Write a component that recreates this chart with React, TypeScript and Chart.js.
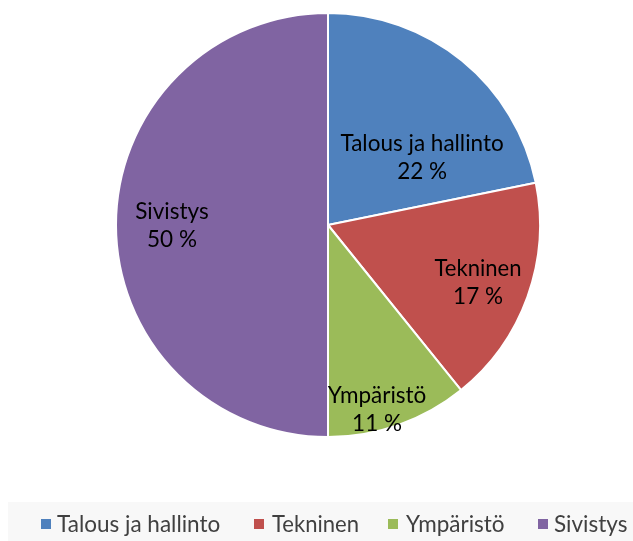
import React, { useEffect, useRef } from "react";
import { Chart, registerables } from "chart.js";

Chart.register(...registerables);

const categories = ["Talous ja hallinto", "Tekninen", "Ympäristö", "Sivistys"];
const values = [21.8, 17.4, 10.8, 50.0];
const colors = ["#4F81BD", "#C0504D", "#9BBB59", "#8064A2"];
// label placement: [radial fraction, angle offset in degrees]
const labelPlacement = [
  [0.547, 15],
  [0.757, 1],
  [0.897, 4.5],
  [0.736, 0],
];
// text width limits (style) to mimic the narrow original font
const textMaxWidth = [165, 87, 99, 75];
const legendBoxX = [41, 254, 388, 538];
const legendTextX = [57, 272, 406, 554];

const FONT = "Lato, 'Open Sans', sans-serif";

const labelsPlugin = {
  id: "pieLabels",
  afterDatasetsDraw(chart: any) {
    const ctx = chart.ctx;
    const meta = chart.getDatasetMeta(0);
    const ds = chart.data.datasets[0];
    const total = (ds.data as number[]).reduce((a, b) => a + b, 0);
    ctx.save();
    ctx.fillStyle = "#000";
    ctx.font = `22.5px ${FONT}`;
    ctx.textAlign = "center";
    ctx.textBaseline = "middle";
    meta.data.forEach((arc: any, i: number) => {
      const p = arc.getProps(["x", "y", "startAngle", "endAngle", "outerRadius"], true);
      const mid = (p.startAngle + p.endAngle) / 2 + (labelPlacement[i][1] * Math.PI) / 180;
      const r = p.outerRadius * labelPlacement[i][0];
      const cx = p.x + Math.cos(mid) * r;
      const cy = p.y + Math.sin(mid) * r;
      const pct = Math.round((ds.data[i] / total) * 100);
      ctx.fillText(chart.data.labels[i], cx, cy - 13, textMaxWidth[i]);
      ctx.fillText(`${pct} %`, cx, cy + 15);
    });
    ctx.restore();
  },
};

const legendPlugin = {
  id: "customLegend",
  beforeDraw(chart: any) {
    const ctx = chart.ctx;
    ctx.save();
    ctx.fillStyle = "#F8F8F8";
    ctx.fillRect(8, 502, chart.width - 8, chart.height - 502);
    ctx.restore();
  },
  afterDraw(chart: any) {
    const ctx = chart.ctx;
    const labels: string[] = chart.data.labels;
    const bg: string[] = chart.data.datasets[0].backgroundColor;
    ctx.save();
    ctx.font = `22.5px ${FONT}`;
    ctx.textBaseline = "middle";
    ctx.textAlign = "left";
    const box = 10;
    const y = 524;
    labels.forEach((l, i) => {
      ctx.fillStyle = bg[i];
      ctx.fillRect(legendBoxX[i], y - box / 2, box, box);
      ctx.fillStyle = "#404040";
      ctx.fillText(l, legendTextX[i], y + 1, textMaxWidth[i]);
    });
    ctx.restore();
  },
};

export default function App() {
  const ref = useRef<HTMLCanvasElement>(null);
  useEffect(() => {
    const chart = new Chart(ref.current!, {
      type: "pie",
      data: {
        labels: categories,
        datasets: [
          {
            data: values,
            backgroundColor: colors,
            borderColor: "#FFFFFF",
            borderWidth: 2,
          },
        ],
      },
      options: {
        animation: false,
        responsive: false,
        layout: { padding: { top: 12, bottom: 103, left: 23, right: 0 } },
        plugins: {
          legend: { display: false },
          tooltip: { enabled: false },
        },
      },
      plugins: [labelsPlugin, legendPlugin],
    });
    return () => chart.destroy();
  }, []);
  return (
    <div style={{ position: "absolute", left: 0, top: 0, width: 633, height: 541, background: "#fff" }}>
      <canvas ref={ref} width={633} height={541} />
    </div>
  );
}
